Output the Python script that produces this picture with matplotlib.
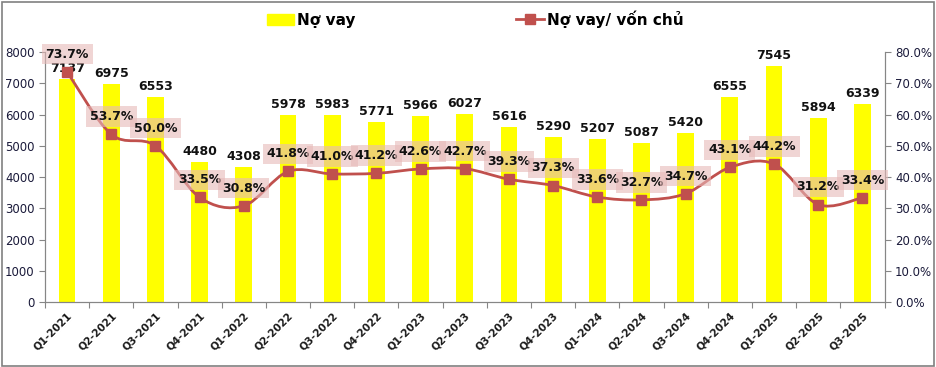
import numpy as np
import matplotlib.pyplot as plt
from matplotlib.path import Path
from matplotlib.patches import PathPatch, Rectangle
from matplotlib.lines import Line2D

# Dữ liệu
quy = ['Q1-2021', 'Q2-2021', 'Q3-2021', 'Q4-2021', 'Q1-2022', 'Q2-2022', 'Q3-2022',
       'Q4-2022', 'Q1-2023', 'Q2-2023', 'Q3-2023', 'Q4-2023', 'Q1-2024', 'Q2-2024',
       'Q3-2024', 'Q4-2024', 'Q1-2025', 'Q2-2025', 'Q3-2025']
no_vay = [7137, 6975, 6553, 4480, 4308, 5978, 5983, 5771, 5966, 6027,
          5616, 5290, 5207, 5087, 5420, 6555, 7545, 5894, 6339]
ty_le = [73.7, 53.7, 50.0, 33.5, 30.8, 41.8, 41.0, 41.2, 42.6, 42.7,
         39.3, 37.3, 33.6, 32.7, 34.7, 43.1, 44.2, 31.2, 33.4]

mau_cot = '#FFFF00'
mau_duong = '#C0504D'
mau_truc = '#868686'

fig = plt.figure(figsize=(9.37, 3.67), dpi=100)
fig.patches.append(Rectangle((0.002, 0.004), 0.995, 0.99, transform=fig.transFigure,
                             fill=False, edgecolor='#808080', linewidth=1.2))
ax = fig.add_axes([0.048, 0.177, 0.896, 0.681])
ax2 = ax.twinx()

x = np.arange(len(quy))
ax.bar(x, no_vay, width=0.38, color=mau_cot, zorder=2)
ax.set_xlim(-0.5, len(quy) - 0.5)
ax.set_ylim(0, 8000)
ax.set_yticks(range(0, 8001, 1000))
ax.set_xticks(np.arange(-0.5, len(quy), 1.0), minor=False)
ax.set_xticklabels([])
ax.set_xticks(x, minor=True)
ax.set_xticklabels(quy, minor=True, rotation=45, ha='right', rotation_mode='anchor',
                   fontsize=7.5, fontweight='bold', color='#1a1a1a')
ax.tick_params(axis='x', which='minor', length=0, pad=6)
ax.tick_params(axis='x', which='major', length=4, color=mau_truc)
ax.tick_params(axis='y', length=4, color=mau_truc, labelsize=8.5, labelcolor='#1a1a3a')

for s in ['top']:
    ax.spines[s].set_visible(False)
    ax2.spines[s].set_visible(False)
for s in ['left', 'bottom', 'right']:
    ax.spines[s].set_color(mau_truc)
    ax2.spines[s].set_color(mau_truc)

for xi, v in zip(x, no_vay):
    ax.text(xi, v + 130, f'{v}', ha='center', va='bottom', fontsize=9,
            fontweight='bold', color='#111111', zorder=3)

# Đường làm mượt (kiểu Excel)
ax2.set_ylim(0, 80)
ax2.set_yticks(range(0, 81, 10))
ax2.set_yticklabels([f'{t:.1f}%' for t in range(0, 81, 10)])
ax2.tick_params(axis='y', length=4, color=mau_truc, labelsize=8.5, labelcolor='#1a1a3a')
ax2.set_zorder(ax.get_zorder() + 1)
ax2.patch.set_visible(False)

pts = np.column_stack([x, ty_le]).astype(float)
verts = [tuple(pts[0])]
codes = [Path.MOVETO]
n = len(pts)
for i in range(n - 1):
    p0 = pts[i - 1] if i > 0 else pts[i]
    p1, p2 = pts[i], pts[i + 1]
    p3 = pts[i + 2] if i + 2 < n else pts[i + 1]
    c1 = p1 + (p2 - p0) / 6.0
    c2 = p2 - (p3 - p1) / 6.0
    verts += [tuple(c1), tuple(c2), tuple(p2)]
    codes += [Path.CURVE4] * 3
ax2.add_patch(PathPatch(Path(verts, codes), fill=False, edgecolor=mau_duong,
                        linewidth=2, zorder=3))
ax2.plot(x, ty_le, linestyle='none', marker='s', markersize=7, color=mau_duong, zorder=4)

for xi, v in zip(x, ty_le):
    ax2.annotate(f'{v:.1f}%', (xi, v), xytext=(0, 8), textcoords='offset points',
                 ha='center', va='bottom', fontsize=9, fontweight='bold', color='#111111',
                 bbox=dict(boxstyle='square,pad=0.3', facecolor='#E6B9B8', alpha=0.6,
                           edgecolor='none'), zorder=5)

# Chú thích
h1 = Rectangle((0, 0), 1, 1, color=mau_cot)
h2 = Line2D([], [], color=mau_duong, marker='s', markersize=7, linewidth=2)
fig.legend([h1, h2], ['Nợ vay', 'Nợ vay/ vốn chủ'], loc='upper center',
           bbox_to_anchor=(0.507, 1.01), ncol=2, frameon=False, columnspacing=10.5,
           handlelength=1.8, handletextpad=0.2, prop={'weight': 'bold', 'size': 11})

fig.savefig('out.png', dpi=100)
